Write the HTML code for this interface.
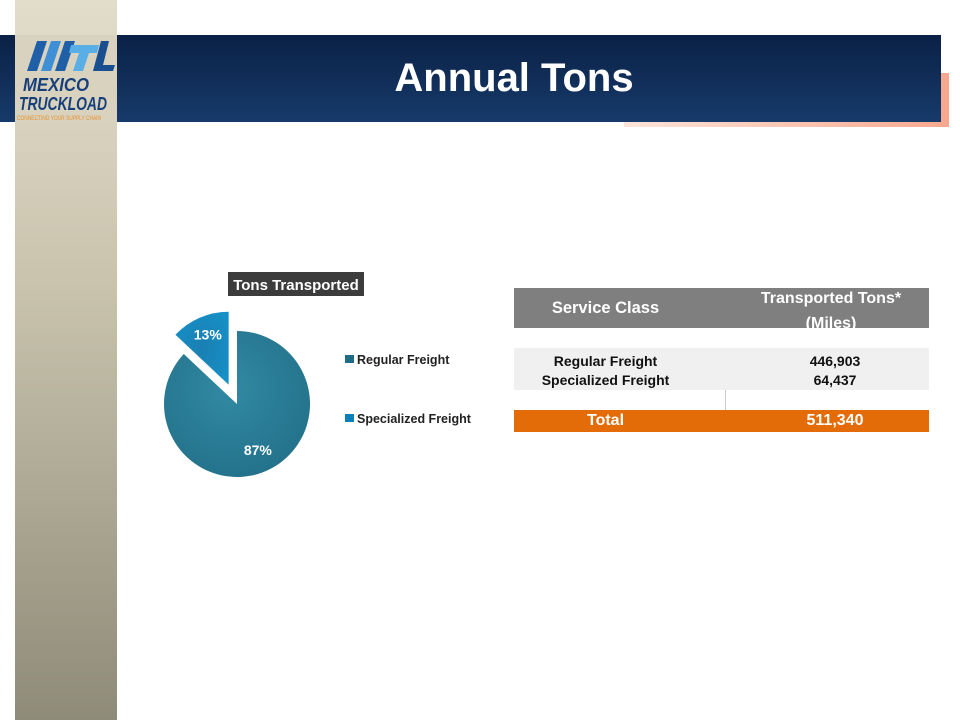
<!DOCTYPE html>
<html><head><meta charset="utf-8">
<style>
body{margin:0;width:960px;height:720px;background:#fff;position:relative;overflow:hidden;font-family:"Liberation Sans",sans-serif}
.abs{position:absolute}
#sidebar{left:15px;top:0;width:102px;height:720px;background:linear-gradient(#e2dccb,#c9c3ad 40%,#8e8b78)}
#header{left:0;top:35px;width:941px;height:87px;background:linear-gradient(#0b2145,#163a6b)}
#shadow{left:624px;top:73px;width:325px;height:54px;background:linear-gradient(90deg,#fde4da,#f7a88e)}
#title{left:0;top:35px;width:1028px;height:87px;line-height:87px;text-align:center;color:#fff;font-weight:bold;font-size:40px;font-family:"Liberation Sans",sans-serif}
#logo{left:15px;top:35px;width:102px;height:87px;background:#d8d2bf}
.cell{position:absolute;text-align:center;font-weight:bold;font-family:"Liberation Sans",sans-serif}
</style></head><body>
<div class="abs" id="sidebar"></div>
<div class="abs" id="shadow"></div>
<div class="abs" id="header"></div>
<div class="abs" id="title">Annual Tons</div>
<div class="abs" id="logo">
 <svg width="102" height="87">
  <polygon points="12,36 22,6 32,6 22,36" fill="#1e5fa8"/>
  <polygon points="26,36 36,6 46,6 36,36" fill="#3f8fd6"/>
  <polygon points="40,36 50,6 60,6 50,36" fill="#1e5fa8"/>
  <polygon points="56,10 84,10 82,18 74,18 68,36 58,36 64,18 54,18" fill="#5aaee6"/>
  <polygon points="78,36 86,6 94,6 88,30 100,30 98,36" fill="#1a4f8f"/>
  <text x="8" y="56" font-size="18" font-weight="bold" font-style="italic" fill="#173f7a" font-family="Liberation Sans,sans-serif" textLength="66" lengthAdjust="spacingAndGlyphs">MEXICO</text>
  <text x="4" y="75" font-size="18" font-weight="bold" font-style="italic" fill="#173f7a" font-family="Liberation Sans,sans-serif" textLength="88" lengthAdjust="spacingAndGlyphs">TRUCKLOAD</text>
  <text x="2" y="85" font-size="6" fill="#e8902a" textLength="84" lengthAdjust="spacingAndGlyphs">CONNECTING YOUR SUPPLY CHAIN</text>
 </svg>
</div>

<svg class="abs" style="left:0;top:0" width="960" height="720">
 <defs>
  <radialGradient id="g1" cx="0.45" cy="0.4" r="0.7"><stop offset="0" stop-color="#3289a3"/><stop offset="1" stop-color="#226f89"/></radialGradient>
  <radialGradient id="g2" cx="0.5" cy="0.5" r="0.7"><stop offset="0" stop-color="#1a7fb2"/><stop offset="1" stop-color="#1593c9"/></radialGradient>
 </defs>
 <rect x="228" y="272" width="136" height="24" fill="#3c3c3c"/>
 <text x="296" y="290" text-anchor="middle" font-size="15" font-weight="bold" fill="#fff" font-family="Liberation Sans,sans-serif">Tons Transported</text>
 <g id="slices"></g>
 <rect x="345" y="355" width="9" height="8" fill="#1f6a85"/>
 <text x="357" y="364" font-size="12.5" font-weight="bold" fill="#222" font-family="Liberation Sans,sans-serif">Regular Freight</text>
 <rect x="345" y="414" width="9" height="8" fill="#0d7fb8"/>
 <text x="357" y="423" font-size="12.5" font-weight="bold" fill="#222" font-family="Liberation Sans,sans-serif">Specialized Freight</text>
</svg>

<div class="abs" style="left:514px;top:288px;width:415px;height:40px;background:#7f7f7f"></div>
<div class="cell" style="left:514px;top:299px;width:183px;font-size:16.5px;color:#fff">Service Class</div>
<div class="cell" style="left:726px;top:286px;width:210px;font-size:16px;line-height:25px;color:#fff">Transported Tons*<br>(Miles)</div>
<div class="abs" style="left:514px;top:348px;width:415px;height:42px;background:#f0f0f0"></div>
<div class="cell" style="left:514px;top:352px;width:183px;font-size:14px;line-height:19px;color:#111">Regular Freight<br>Specialized Freight</div>
<div class="cell" style="left:726px;top:352px;width:218px;font-size:14px;line-height:19px;color:#111">446,903<br>64,437</div>
<div class="abs" style="left:725px;top:390px;width:1px;height:20px;background:#ccc"></div>
<div class="abs" style="left:514px;top:410px;width:415px;height:22px;background:#e36c09"></div>
<div class="cell" style="left:514px;top:412px;width:183px;font-size:16px;color:#fff">Total</div>
<div class="cell" style="left:726px;top:412px;width:218px;font-size:16px;color:#fff">511,340</div>

<script>
const categories = ["Regular Freight", "Specialized Freight"];
const values = [87, 13];
const fills = ["url(#g1)", "url(#g2)"];
const explode = [0, 21];
const cx = 237, cy = 404, r = 73;
const g = document.getElementById('slices');
const ns = 'http://www.w3.org/2000/svg';
const total = values.reduce((a, b) => a + b, 0);
let start = 0;
values.forEach((v, i) => {
  const a0 = start / total * 2 * Math.PI, a1 = (start + v) / total * 2 * Math.PI;
  const mid = (a0 + a1) / 2;
  const ox = cx + explode[i] * Math.sin(mid), oy = cy - explode[i] * Math.cos(mid);
  const x0 = ox + r * Math.sin(a0), y0 = oy - r * Math.cos(a0);
  const x1 = ox + r * Math.sin(a1), y1 = oy - r * Math.cos(a1);
  const large = (a1 - a0) > Math.PI ? 1 : 0;
  const p = document.createElementNS(ns, 'path');
  p.setAttribute('d', `M${ox},${oy} L${x0},${y0} A${r},${r} 0 ${large} 1 ${x1},${y1} Z`);
  p.setAttribute('fill', fills[i]);
  
  
  g.appendChild(p);
  const lr = i === 0 ? r * 0.72 : r * 0.72;
  const t = document.createElementNS(ns, 'text');
  t.setAttribute('x', ox + lr * Math.sin(mid));
  t.setAttribute('y', oy - lr * Math.cos(mid) + 3);
  t.setAttribute('text-anchor', 'middle');
  t.setAttribute('font-size', '14');
  t.setAttribute('font-weight', 'bold');
  t.setAttribute('fill', '#fff');
  t.setAttribute('font-family', 'Liberation Sans,sans-serif');
  
  
  t.textContent = Math.round(v / total * 100) + '%';
  g.appendChild(t);
  start += v;
});
</script>
</body></html>
